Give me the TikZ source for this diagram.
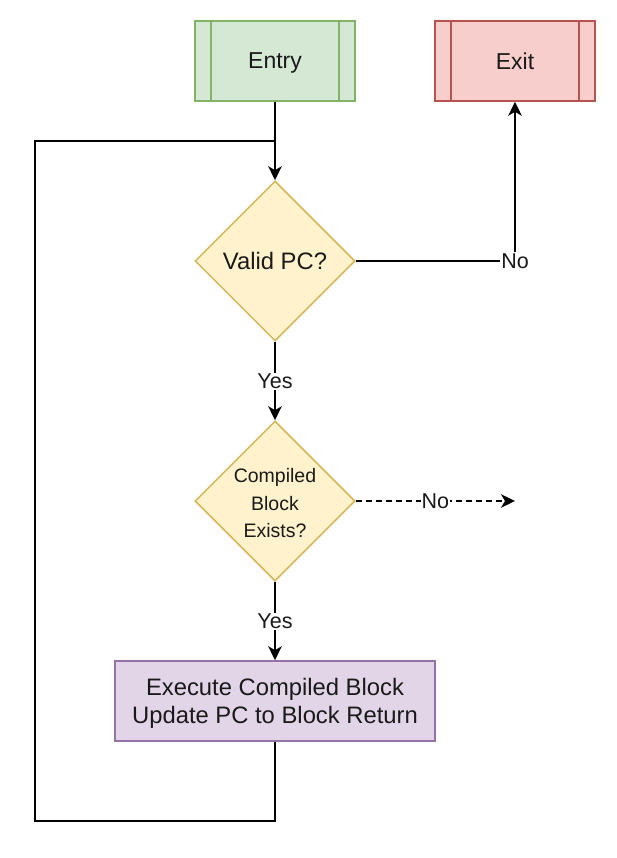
\documentclass[tikz,border=0pt]{standalone}
\usepackage{fontspec}
\setmainfont{Liberation Sans}
\usetikzlibrary{shapes.geometric,arrows.meta}
\definecolor{gfill}{HTML}{D5E8D4}\definecolor{gdraw}{HTML}{82B366}
\definecolor{rfill}{HTML}{F8CECC}\definecolor{rdraw}{HTML}{B85450}
\definecolor{yfill}{HTML}{FFF2CC}\definecolor{ydraw}{HTML}{D6B656}
\definecolor{pfill}{HTML}{E1D5E7}\definecolor{pdraw}{HTML}{9673A6}
\definecolor{txt}{HTML}{1A1A1A}
\tikzset{
  procbox/.style={rectangle, minimum width=160pt, minimum height=80pt, inner sep=0pt, line width=1.5pt, text=txt, font=\fontsize{23}{27}\selectfont, text depth=0pt},
  decision/.style={diamond, minimum width=160pt, minimum height=160pt, inner sep=0pt, aspect=1, fill=yfill, draw=ydraw, line width=1.5pt, text=txt, align=center},
  flow/.style={line width=2pt, -{Stealth[length=14pt,width=13.5pt,inset=4pt]}},
  lbl/.style={fill=white, inner sep=1pt, text=txt, font=\fontsize{21.5}{25}\selectfont},
}
\begin{document}
\begin{tikzpicture}[x=1pt,y=-1pt]
\useasboundingbox (0,0) rectangle (616,858);
\fill[white] (0,0) rectangle (616,858);
% Entry
\node[procbox, fill=gfill, draw=gdraw] (entry) at (275,61) {Entry};
\draw[gdraw, line width=1.5pt] (211,21) -- (211,101) (339,21) -- (339,101);
% Exit
\node[procbox, fill=rfill, draw=rdraw] (exit) at (515,61) {Exit};
\draw[rdraw, line width=1.5pt] (451,21) -- (451,101) (579,21) -- (579,101);
% Decisions
\node[decision, font=\fontsize{23.8}{28}\selectfont] (valid) at (275,261) {Valid PC?};
\node[decision, font=\fontsize{19.5}{27.5}\selectfont] (comp) at (275,501) {};
\node[text=txt, align=center, font=\fontsize{19.5}{27.5}\selectfont] (comptext) at (275,503.5) {Compiled\\Block\\Exists?};
% Execute
\node[procbox, minimum width=320pt, fill=pfill, draw=pdraw, align=center, font=\fontsize{23.8}{28}\selectfont] (exec) at (275,701) {Execute Compiled Block\\Update PC to Block Return};
% coordinates
\coordinate (nocorner) at (515,261);
\coordinate (dashend) at (515,501);
\coordinate (b1) at (275,821);
\coordinate (b2) at (35,821);
\coordinate (b3) at (35,141);
\coordinate (b4) at (275,141);
% connectors
\draw[flow] (entry.south) -- (valid.north);
\draw[line width=2pt, line join=miter] (exec.south) -- (b1) -- (b2) -- (b3) -- (b4);
\draw[flow] (valid.east) -- (nocorner) -- (exit.south);
\node[lbl] at (nocorner) {No};
\draw[flow] (valid.south) -- node[lbl] {Yes} (comp.north);
\draw[flow] (comp.south) -- node[lbl] {Yes} (exec.north);
\draw[flow, dash pattern=on 6pt off 4pt] (comp.east) -- node[lbl] {No} (dashend);
\end{tikzpicture}
\end{document}
